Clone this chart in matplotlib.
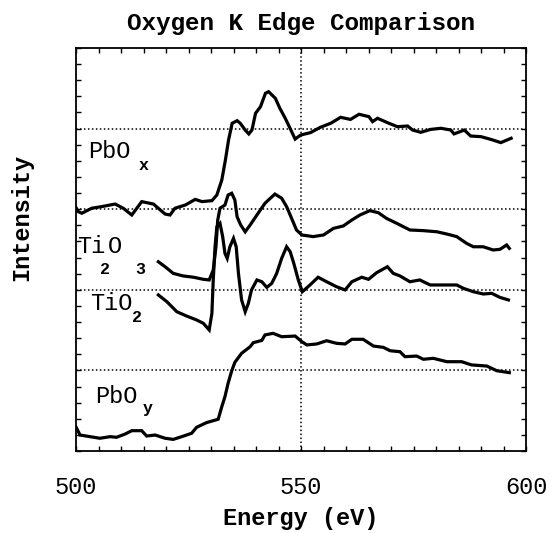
import numpy as np
import matplotlib.pyplot as plt
from matplotlib.ticker import MultipleLocator

# traced spectra: energy (eV) and offset intensity (arbitrary units)
pbox_e = [500.0, 500.5, 501.3, 503.5, 505.7, 508.7, 510.5, 512.4, 514.6, 517.2,
          519.8, 520.9, 522.0, 524.3, 526.5, 528.0, 530.2, 531.3, 532.4, 533.2,
          533.9, 534.7, 535.8, 536.5, 537.6, 538.4, 539.1, 539.9, 541.0, 542.1,
          542.8, 544.3, 545.3, 546.5, 547.6, 548.7, 549.9, 552.1, 554.3, 556.6,
          558.8, 561.0, 562.9, 565.1, 565.9, 567.0, 569.2, 571.4, 573.7, 574.8,
          576.6, 578.8, 581.1, 583.3, 584.0, 586.3, 587.7, 590.0, 592.2, 594.4,
          596.7]
pbox_i = [15.1, 14.85, 14.75, 15.06, 15.16, 15.32, 15.06, 14.64, 15.47, 15.32,
          14.70, 14.64, 15.06, 15.26, 15.61, 15.47, 15.53, 15.88, 16.81, 18.05,
          19.29, 20.33, 20.49, 20.33, 19.91, 19.67, 19.91, 20.95, 21.36, 22.19,
          22.29, 21.88, 21.26, 20.64, 20.0, 19.35, 19.6, 19.75, 20.08, 20.33,
          20.7, 20.57, 20.89, 20.74, 20.43, 20.64, 20.37, 20.12, 20.16, 19.91,
          19.77, 19.95, 20.02, 19.91, 19.67, 19.91, 19.54, 19.5, 19.33, 19.13,
          19.4]

ti2o3_e = [518.3, 519.8, 521.6, 523.8, 526.1, 528.3, 529.6, 530.5, 531.1, 531.5,
           532.0, 533.1, 533.8, 534.6, 535.3, 535.8, 536.6, 537.6, 538.7, 540.2,
           542.0, 544.2, 545.7, 546.8, 547.9, 549.0, 550.2, 552.7, 555.0, 557.2,
           559.4, 561.3, 563.1, 565.3, 567.2, 569.0, 571.3, 574.2, 577.2, 580.2,
           582.4, 584.6, 586.8, 588.3, 590.5, 592.7, 594.2, 595.7, 596.3]
ti2o3_i = [11.74, 11.43, 11.02, 10.86, 10.78, 10.65, 10.61, 11.23, 12.67, 14.33,
           15.06, 15.26, 15.88, 15.99, 15.57, 14.53, 14.02, 13.6, 14.02, 14.64,
           15.37, 15.94, 15.68, 15.16, 14.44, 13.71, 13.4, 13.3, 13.4, 13.81,
           13.96, 14.33, 14.64, 14.91, 14.78, 14.43, 14.12, 13.71, 13.67, 13.6,
           13.46, 13.3, 12.88, 12.67, 12.67, 12.47, 12.51, 12.78, 12.57]

tio2_e = [518.3, 520.2, 522.4, 524.6, 526.8, 528.3, 529.6, 530.2, 530.5, 530.9,
          531.3, 532.0, 532.6, 533.1, 533.6, 534.2, 535.0, 535.6, 536.1, 536.8,
          537.6, 538.3, 539.0, 540.2, 541.3, 542.4, 543.5, 544.6, 545.7, 546.8,
          547.6, 548.4, 549.4, 550.3, 552.0, 553.8, 555.7, 557.9, 559.8, 561.3,
          563.5, 565.0, 566.8, 569.2, 570.5, 572.0, 574.2, 576.4, 578.7, 581.6,
          584.6, 586.1, 588.3, 590.5, 592.4, 594.2, 596.1]
tio2_i = [9.68, 9.26, 8.64, 8.37, 8.13, 7.92, 7.51, 8.54, 10.61, 12.67,
          13.91, 14.12, 13.29, 12.26, 11.95, 12.67, 13.19, 12.67, 11.02, 9.37,
          8.64, 9.16, 9.99, 10.61, 10.5, 10.15, 10.4, 11.02, 11.95, 12.67,
          12.36, 11.64, 10.61, 9.88, 10.3, 10.78, 10.5, 10.19, 9.99, 10.5,
          10.78, 10.65, 11.06, 11.43, 11.02, 10.86, 10.5, 10.61, 10.3, 10.3,
          10.3, 10.09, 9.88, 9.74, 9.78, 9.53, 9.37]

pboy_e = [500.0, 500.9, 503.1, 505.3, 507.6, 509.0, 510.9, 512.4, 514.6, 515.7,
          517.6, 519.8, 521.6, 523.5, 525.7, 526.8, 529.0, 531.6, 532.4, 533.1,
          533.8, 534.6, 535.3, 536.8, 538.7, 539.4, 541.3, 542.0, 543.8, 545.7,
          548.7, 550.2, 551.3, 553.5, 555.7, 557.9, 559.8, 561.3, 563.8, 566.1,
          568.3, 569.8, 572.0, 573.1, 575.7, 577.2, 579.4, 582.4, 585.7, 587.9,
          591.3, 593.5, 596.3]
pboy_i = [1.49, 0.99, 0.89, 0.79, 0.89, 0.85, 1.05, 1.26, 1.26, 0.93,
          0.99, 0.79, 0.72, 0.89, 1.1, 1.47, 1.76, 1.97, 2.75, 3.37,
          4.2, 4.97, 5.5, 6.06, 6.47, 6.72, 6.86, 7.2, 7.3, 7.09,
          7.13, 6.78, 6.58, 6.64, 6.84, 6.68, 6.64, 6.93, 6.93, 6.51,
          6.43, 6.22, 6.16, 5.85, 5.89, 5.69, 5.75, 5.54, 5.54, 5.34,
          5.27, 4.98, 4.86]

# curve labels: (text, energy, intensity, fontsize)
label_parts = [
    ("PbO", 502.7, 18.18, 17), ("x", 513.8, 17.45, 12),
    ("Ti", 500.2, 12.28, 17), ("2", 505.3, 10.95, 12),
    ("O", 507.1, 12.28, 17), ("3", 513.1, 10.95, 12),
    ("TiO", 503.1, 8.75, 17), ("2", 512.4, 8.0, 12),
    ("PbO", 504.2, 3.0, 17), ("y", 514.9, 2.35, 12),
]

x_ticks = [500, 550, 600]
grid_y = [5, 10, 15, 20]
grid_x = [550]

mono = 'Liberation Mono'

fig = plt.figure(figsize=(5.57, 5.33), dpi=100)
ax = fig.add_axes([76 / 557, 1 - 451 / 533, 450 / 557, 403 / 533])

for e, i in [(pbox_e, pbox_i), (ti2o3_e, ti2o3_i), (tio2_e, tio2_i), (pboy_e, pboy_i)]:
    ax.plot(e, i, color='black', lw=2.3, solid_joinstyle='miter')

for g in grid_y:
    ax.axhline(g, color='black', lw=1.1, ls=(0, (1, 1.6)), zorder=1)
for g in grid_x:
    ax.axvline(g, color='black', lw=1.1, ls=(0, (1, 1.6)), zorder=1)

for txt, x, y, fs in label_parts:
    ax.text(x, y, txt, fontsize=fs, family=mono, ha='left', va='baseline',
            weight='bold' if fs < 15 else 'normal')

ax.set_xlim(500, 600)
ax.set_ylim(0, 25)
ax.set_xticks(x_ticks)
ax.set_xticklabels([str(t) for t in x_ticks], family=mono, fontsize=17)
ax.xaxis.set_minor_locator(MultipleLocator(5))
ax.yaxis.set_major_locator(MultipleLocator(1))
ax.tick_params(axis='both', which='both', direction='in', top=True, right=True,
               length=3.5, width=1, color='black')
ax.tick_params(axis='x', which='major', pad=18)
ax.tick_params(axis='y', which='both', labelleft=False)
for sp in ax.spines.values():
    sp.set_linewidth(1.3)

ax.set_title('Oxygen K Edge Comparison', family=mono, fontsize=17.5, weight='bold', pad=13)
ax.set_xlabel('Energy (eV)', family=mono, fontsize=17, weight='bold', labelpad=6)
ax.set_ylabel('Intensity', family=mono, fontsize=17, weight='bold')
ax.yaxis.set_label_coords(-0.095, 0.58)

fig.savefig('out.png', dpi=100)
